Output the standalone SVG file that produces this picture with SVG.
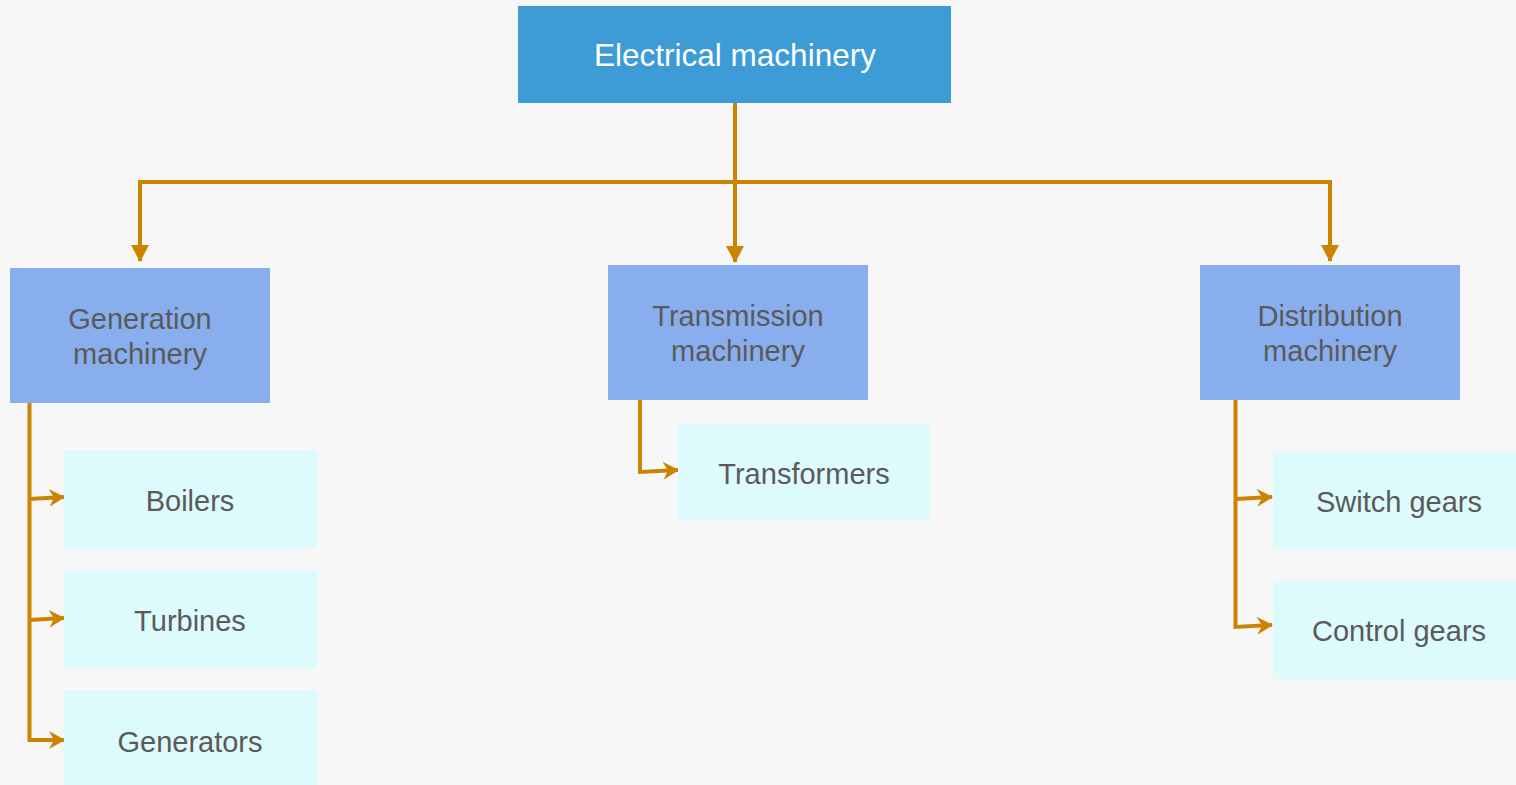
<svg xmlns="http://www.w3.org/2000/svg" width="1516" height="785" viewBox="0 0 1516 785">
<style>
.root{fill:#3d9bd5}
.mid{fill:#88aeee}
.leaf{fill:#ddfafc}
.t{font-family:"Liberation Sans",Arial,sans-serif;font-size:29px;fill:#5a5a5a;text-anchor:middle}
.tw{font-family:"Liberation Sans",Arial,sans-serif;font-size:31.5px;fill:#ffffff;text-anchor:middle}
.c{fill:none;stroke:#cc8400;stroke-width:4}
</style>
<defs>
<marker id="ah" viewBox="0 0 16 18" refX="15" refY="9" markerWidth="16" markerHeight="18" markerUnits="userSpaceOnUse" orient="auto">
<path d="M0,0 L16,9 L0,18 L5,9 Z" fill="#cc8400"/>
</marker>
<marker id="ad" viewBox="0 0 17 18" refX="16" refY="9" markerWidth="17" markerHeight="18" markerUnits="userSpaceOnUse" orient="auto">
<path d="M0,0 L17,9 L0,18 Z" fill="#cc8400"/>
</marker>
</defs>
<rect width="1516" height="785" fill="#f7f7f7"/>
<g id="connectors">
<path class="c" d="M735,103 V262" marker-end="url(#ad)"/>
<path class="c" d="M735,182 H140 V261" marker-end="url(#ad)"/>
<path class="c" d="M735,182 H1330 V261" marker-end="url(#ad)"/>
<path class="c" d="M29.5,403 V740 H64" marker-end="url(#ah)"/>
<path class="c" d="M29.5,499 L64,497" marker-end="url(#ah)"/>
<path class="c" d="M29.5,620 L64,618" marker-end="url(#ah)"/>
<path class="c" d="M640,400 V472 L678,470" marker-end="url(#ah)"/>
<path class="c" d="M1235.5,400 V627 L1272,625" marker-end="url(#ah)"/>
<path class="c" d="M1235.5,499 L1272,497" marker-end="url(#ah)"/>
</g>
<g id="electrical"><rect class="root" x="518" y="6" width="433" height="97"/><text class="tw" x="735" y="66">Electrical machinery</text></g>
<g id="generation"><rect class="mid" x="10" y="268" width="260" height="135"/><text class="t" x="140" y="329">Generation</text><text class="t" x="140" y="364">machinery</text></g>
<g id="transmission"><rect class="mid" x="608" y="265" width="260" height="135"/><text class="t" x="738" y="326">Transmission</text><text class="t" x="738" y="361">machinery</text></g>
<g id="distribution"><rect class="mid" x="1200" y="265" width="260" height="135"/><text class="t" x="1330" y="326">Distribution</text><text class="t" x="1330" y="361">machinery</text></g>
<g id="boilers"><rect class="leaf" x="64" y="450" width="253" height="98"/><text class="t" x="190" y="511">Boilers</text></g>
<g id="turbines"><rect class="leaf" x="64" y="571" width="253" height="97"/><text class="t" x="190" y="631">Turbines</text></g>
<g id="generators"><rect class="leaf" x="64" y="690" width="253" height="95"/><text class="t" x="190" y="752">Generators</text></g>
<g id="transformers"><rect class="leaf" x="678" y="423" width="252" height="98"/><text class="t" x="804" y="484">Transformers</text></g>
<g id="switchgears"><rect class="leaf" x="1273" y="452" width="243" height="97"/><text class="t" x="1399" y="512">Switch gears</text></g>
<g id="controlgears"><rect class="leaf" x="1273" y="581" width="243" height="98"/><text class="t" x="1399" y="641">Control gears</text></g>
</svg>
